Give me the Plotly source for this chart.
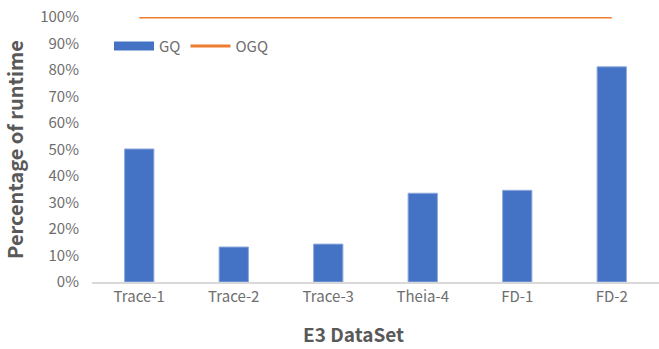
import plotly.graph_objects as go

categories = ["Trace-1", "Trace-2", "Trace-3", "Theia-4", "FD-1", "FD-2"]
gq = [0.502, 0.132, 0.143, 0.335, 0.346, 0.812]
ogq = [1.0, 1.0, 1.0, 1.0, 1.0, 1.0]

blue = "#4472C4"
orange = "#ED7D31"
gray = "#595959"
tick_gray = "#6E6E6E"
font_fam = "Noto Sans CJK SC, Noto Sans, sans-serif"

fig = go.Figure()
fig.add_trace(go.Bar(x=categories, y=gq, name="GQ", marker=dict(color=blue, line=dict(color="#8FAADC", width=1)),
                     showlegend=False))
# legend proxy for the bar series (wide rectangle like the original)
fig.add_trace(go.Scatter(x=[None], y=[None], mode="lines", name="GQ",
                         line=dict(color=blue, width=9)))
fig.add_trace(go.Scatter(x=categories, y=ogq, mode="lines", name="OGQ",
                         line=dict(color=orange, width=3)))

fig.add_annotation(text="<b>E3 DataSet</b>", xref="paper", yref="paper", x=0.462, y=-0.196,
                   xanchor="center", yanchor="middle", showarrow=False,
                   font=dict(size=19, color=gray, family=font_fam))

fig.update_layout(
    width=659, height=349,
    margin=dict(l=92, r=0, t=17, b=67),
    plot_bgcolor="white", paper_bgcolor="white",
    bargap=0.69,
    font=dict(family=font_fam, color=gray, size=13),
    legend=dict(orientation="h", x=0.03, y=0.89, xanchor="left", yanchor="middle",
                bgcolor="rgba(0,0,0,0)", font=dict(size=15, color=tick_gray),
                itemwidth=40, tracegroupgap=0),
    xaxis=dict(showline=True, linecolor="#D9D9D9", linewidth=1.5, ticks="",
               tickfont=dict(size=15, color=tick_gray), showgrid=False),
    yaxis=dict(title=dict(text="<b>Percentage of runtime</b>", font=dict(size=20, color=gray), standoff=12),
               range=[0, 1.0], dtick=0.1, tickformat=".0%", showgrid=False, zeroline=False,
               tickfont=dict(size=15, color=tick_gray), ticks="", ticklabelstandoff=12),
)

fig.write_html("out.html")
